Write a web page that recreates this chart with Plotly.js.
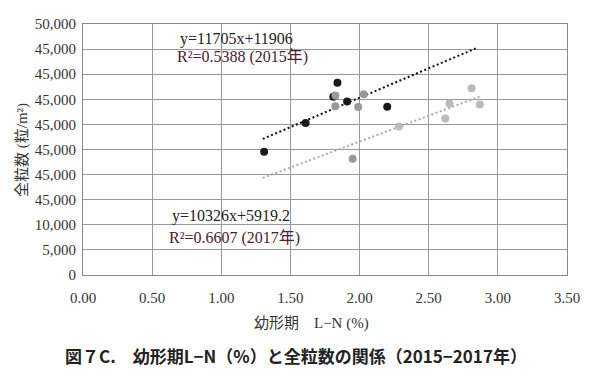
<!DOCTYPE html>
<html>
<head>
<meta charset="utf-8">
<script src="https://cdn.plot.ly/plotly-3.0.1.min.js"></script>
<style>html,body{margin:0;padding:0;background:#fff;}#chart{width:605px;height:377px;}</style>
</head>
<body>
<div id="chart"></div>
<script>
// 2015 (black)
const x2015 = [1.31, 1.61, 1.81, 1.84, 1.91, 2.20];
const y2015 = [24540, 30280, 35500, 38280, 34540, 33540];
// 2016 (medium gray)
const x2016 = [1.825, 1.825, 1.99, 2.03, 1.95];
const y2016 = [35740, 33600, 33480, 36000, 23140];
// 2017 (light gray)
const x2017 = [2.285, 2.62, 2.65, 2.81, 2.87];
const y2017 = [29600, 31200, 34140, 37200, 33940];

// trendlines (from equations shown)
const trend2015 = {slope: 11705, intercept: 11906, xRange: [1.3, 2.855]};
const trend2017 = {slope: 10326, intercept: 5919.2, xRange: [1.3, 2.87]};

const yTickVals = [0, 5000, 10000, 15000, 20000, 25000, 30000, 35000, 40000, 45000, 50000];
const yTickText = ["0", "5,000", "10,000", "45,000", "45,000", "45,000", "45,000", "45,000", "45,000", "45,000", "50,000"];
const xTickVals = [0, 0.5, 1.0, 1.5, 2.0, 2.5, 3.0, 3.5];
const xTickText = ["0.00", "0.50", "1.00", "1.50", "2.00", "2.50", "3.00", "3.50"];

const eq2015 = ["y=11705x+11906", "R²=0.5388 (2015年)"];
const eq2017 = ["y=10326x+5919.2", "R²=0.6607 (2017年)"];
const xTitle = "幼形期　L−N (%)";
const yTitle = "全粒数 (粒/m²)";
const caption = "図７C.　幼形期L−N（%）と全粒数の関係（2015−2017年）";

function trendLine(t) {
  const xs = t.xRange.slice();
  return {x: xs, y: xs.map(v => t.slope * v + t.intercept)};
}
const t15 = trendLine(trend2015);
const t17 = trendLine(trend2017);

const serif = "Liberation Serif, serif";
const cjk = "Liberation Serif, Noto Sans CJK JP, serif";

const traces = [
  {x: t15.x, y: t15.y, mode: 'lines', line: {color: '#111', width: 2, dash: '2px,2.5px'}, hoverinfo: 'skip'},
  {x: t17.x, y: t17.y, mode: 'lines', line: {color: '#aaa', width: 2, dash: '2px,2.5px'}, hoverinfo: 'skip'},
  {x: x2015, y: y2015, mode: 'markers', marker: {color: '#1a1a1a', size: 8}},
  {x: x2016, y: y2016, mode: 'markers', marker: {color: '#999', size: 8}},
  {x: x2017, y: y2017, mode: 'markers', marker: {color: '#bbb', size: 8}}
];

const layout = {
  width: 605, height: 377,
  margin: {l: 83, r: 38, t: 24, b: 102},
  paper_bgcolor: '#fff', plot_bgcolor: '#fff',
  showlegend: false,
  hovermode: false,
  xaxis: {
    range: [0, 3.5], tickvals: xTickVals, ticktext: xTickText,
    showgrid: true, gridcolor: '#999', gridwidth: 1,
    showline: true, linecolor: '#888', linewidth: 1, mirror: true,
    zeroline: false, ticks: 'outside', ticklen: 9, tickcolor: 'rgba(0,0,0,0)',
    tickfont: {family: serif, size: 15, color: '#333'}
  },
  yaxis: {
    range: [0, 50000], tickvals: yTickVals, ticktext: yTickText,
    showgrid: true, gridcolor: '#999', gridwidth: 1,
    showline: true, linecolor: '#888', linewidth: 1, mirror: true,
    zeroline: false, ticks: 'outside', ticklen: 3, tickcolor: 'rgba(0,0,0,0)',
    tickfont: {family: serif, size: 15, color: '#333'}
  },
  annotations: [
    {xref: 'x', yref: 'y', x: 0.685, y: 47100, text: eq2015[0], showarrow: false, xanchor: 'left', yanchor: 'middle', font: {family: serif, size: 16, color: '#222'}},
    {xref: 'x', yref: 'y', x: 0.663, y: 43400, text: eq2015[1], showarrow: false, xanchor: 'left', yanchor: 'middle', font: {family: cjk, size: 16, color: '#4a2030'}},
    {xref: 'x', yref: 'y', x: 0.626, y: 11700, text: eq2017[0], showarrow: false, xanchor: 'left', yanchor: 'middle', font: {family: serif, size: 16, color: '#222'}},
    {xref: 'x', yref: 'y', x: 0.604, y: 7400, text: eq2017[1], showarrow: false, xanchor: 'left', yanchor: 'middle', font: {family: cjk, size: 16, color: '#4a2030'}},
    {xref: 'paper', yref: 'paper', x: (311 - 83) / 484, y: (377 - 102 - 323) / 251, text: xTitle, showarrow: false, xanchor: 'center', yanchor: 'middle', font: {family: cjk, size: 15, color: '#333'}},
    {xref: 'paper', yref: 'paper', x: (22 - 83) / 484, y: (377 - 102 - 150) / 251, text: yTitle, textangle: -90, showarrow: false, xanchor: 'center', yanchor: 'middle', font: {family: cjk, size: 15, color: '#333'}},
    {xref: 'paper', yref: 'paper', x: (63 - 83) / 484, y: (377 - 102 - 355) / 251, text: '<b>' + caption + '</b>', showarrow: false, xanchor: 'left', yanchor: 'middle', font: {family: 'Noto Sans CJK JP, sans-serif', size: 17, color: '#222'}}
  ]
};

Plotly.newPlot('chart', traces, layout, {displayModeBar: false, staticPlot: true});
</script>
</body>
</html>
